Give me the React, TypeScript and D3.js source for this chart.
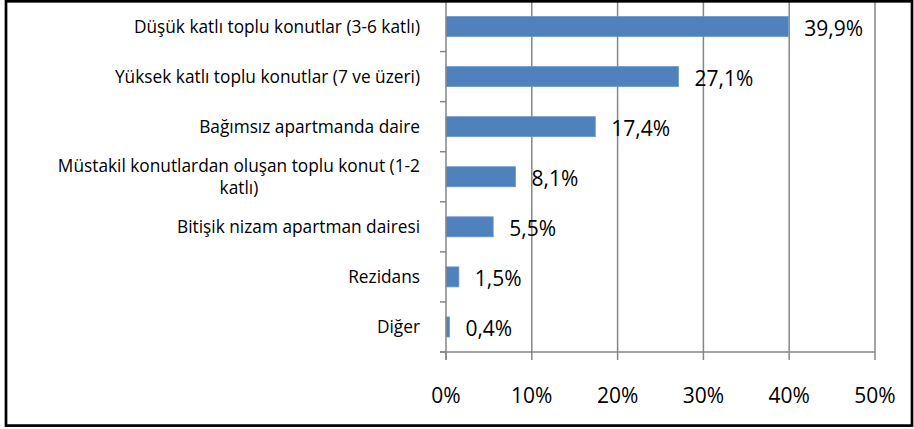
import React, { useEffect, useRef } from "react";
import * as d3 from "d3";

const categories = [
  "Düşük katlı toplu konutlar (3-6 katlı)",
  "Yüksek katlı toplu konutlar (7 ve üzeri)",
  "Bağımsız apartmanda daire",
  "Müstakil konutlardan oluşan toplu konut (1-2\nkatlı)",
  "Bitişik nizam apartman dairesi",
  "Rezidans",
  "Diğer",
];
const values = [0.399, 0.271, 0.174, 0.081, 0.055, 0.015, 0.004];
const valueLabels = ["39,9%", "27,1%", "17,4%", "8,1%", "5,5%", "1,5%", "0,4%"];
const xTicks = [0, 0.1, 0.2, 0.3, 0.4, 0.5];
const xTickLabels = ["0%", "10%", "20%", "30%", "40%", "50%"];

const W = 914;
const H = 429;
const FONT = "'Open Sans', 'Noto Sans', sans-serif";

export default function App() {
  const ref = useRef<SVGSVGElement | null>(null);

  useEffect(() => {
    const svg = d3.select(ref.current);
    svg.selectAll("*").remove();

    const left = 446, right = 875, top = 1.5, bottom = 352;
    const x = d3.scaleLinear().domain([0, 0.5]).range([left, right]);
    const y = d3
      .scaleBand<string>()
      .domain(categories)
      .range([top, bottom])
      .paddingInner(0.6)
      .paddingOuter(0.3);

    svg.append("rect").attr("x", 0).attr("y", 0).attr("width", W).attr("height", H).attr("fill", "#fff");

    // gridlines
    svg
      .append("g")
      .selectAll("line")
      .data(xTicks.slice(1))
      .join("line")
      .attr("x1", (d) => x(d))
      .attr("x2", (d) => x(d))
      .attr("y1", top)
      .attr("y2", bottom)
      .attr("stroke", "#868686")
      .attr("stroke-width", 1.5);

    // bars
    svg
      .append("g")
      .selectAll("rect")
      .data(values)
      .join("rect")
      .attr("x", left)
      .attr("y", (_, i) => y(categories[i])!)
      .attr("width", (d) => x(d) - left)
      .attr("height", y.bandwidth())
      .attr("fill", "#4F81BD")
      .attr("stroke", "#6E98CB")
      .attr("stroke-width", 0.8);

    // value labels
    svg
      .append("g")
      .selectAll("text")
      .data(values)
      .join("text")
      .attr("x", (d) => x(d) + 16)
      .attr("y", (_, i) => y(categories[i])! + y.bandwidth() / 2 + 1)
      .attr("dominant-baseline", "central")
      .attr("font-family", FONT)
      .attr("font-size", 21)
      .attr("fill", "#000")
      .text((_, i) => valueLabels[i]);

    // axes lines
    svg.append("line").attr("x1", left).attr("x2", left).attr("y1", top).attr("y2", bottom + 8)
      .attr("stroke", "#868686").attr("stroke-width", 1.5);
    svg.append("line").attr("x1", left - 6).attr("x2", right).attr("y1", bottom).attr("y2", bottom)
      .attr("stroke", "#868686").attr("stroke-width", 1.5);

    // x tick marks
    svg
      .append("g")
      .selectAll("line")
      .data(xTicks)
      .join("line")
      .attr("x1", (d) => x(d))
      .attr("x2", (d) => x(d))
      .attr("y1", bottom)
      .attr("y2", bottom + 8)
      .attr("stroke", "#868686")
      .attr("stroke-width", 1.5);

    // category tick marks at band boundaries
    const step = y.step();
    const boundaries = d3.range(categories.length + 1).map((i) => top + i * step);
    svg
      .append("g")
      .selectAll("line")
      .data(boundaries)
      .join("line")
      .attr("x1", left - 6)
      .attr("x2", left)
      .attr("y1", (d) => d)
      .attr("y2", (d) => d)
      .attr("stroke", "#868686")
      .attr("stroke-width", 1.5);

    // x tick labels
    svg
      .append("g")
      .selectAll("text")
      .data(xTicks)
      .join("text")
      .attr("x", (d) => x(d))
      .attr("y", 395)
      .attr("text-anchor", "middle")
      .attr("dominant-baseline", "central")
      .attr("font-family", FONT)
      .attr("font-size", 21)
      .attr("fill", "#000")
      .text((_, i) => xTickLabels[i]);

    // category labels (multi-line centered among themselves, right-aligned block)
    const labelRight = 420;
    const lineH = 22;
    categories.forEach((cat) => {
      const lines = cat.split("\n");
      const cy = y(cat)! + y.bandwidth() / 2;
      const g = svg.append("g");
      const texts = lines.map((ln, li) =>
        g
          .append("text")
          .attr("y", cy + (li - (lines.length - 1) / 2) * lineH)
          .attr("dominant-baseline", "central")
          .attr("font-family", FONT)
          .attr("font-size", 17.3)
          .attr("fill", "#000")
          .text(ln)
      );
      const widths = texts.map((t) => (t.node() as SVGTextElement).getComputedTextLength());
      const maxW = d3.max(widths) ?? 0;
      const center = labelRight - maxW / 2;
      texts.forEach((t) => t.attr("x", center).attr("text-anchor", "middle"));
    });

    // border
    svg.append("rect").attr("x", 6).attr("y", 1.3).attr("width", 906).attr("height", 424.3)
      .attr("fill", "none").attr("stroke", "#000").attr("stroke-width", 2.7);
  }, []);

  return (
    <svg
      ref={ref}
      width={W}
      height={H}
      style={{ position: "absolute", left: 0, top: 0, display: "block" }}
    />
  );
}
